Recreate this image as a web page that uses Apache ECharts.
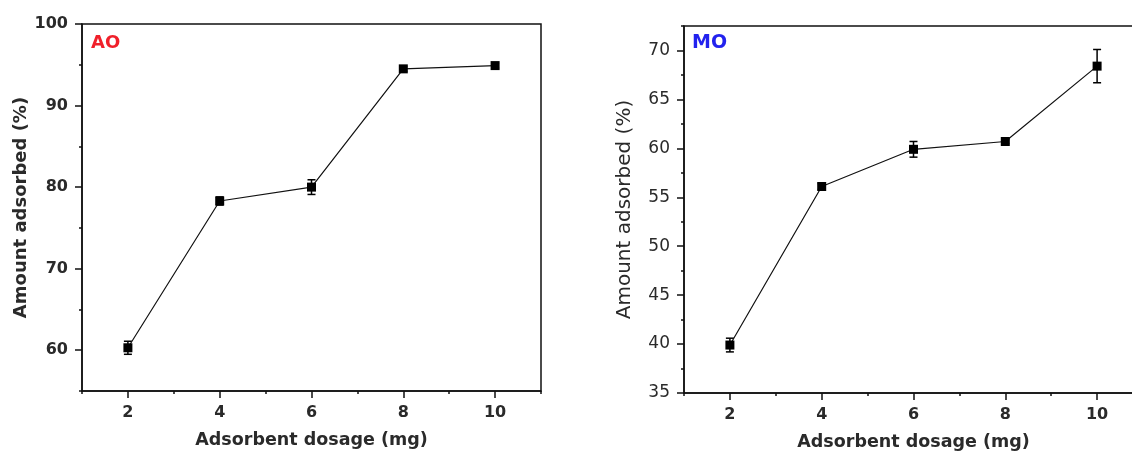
<!DOCTYPE html>
<html>
<head>
<meta charset="utf-8">
<script src="https://cdn.jsdelivr.net/npm/echarts@6/dist/echarts.min.js"></script>
<style>
html,body{margin:0;padding:0;background:#fff;overflow:hidden;width:1132px;height:456px;}
#chart{width:1160px;height:456px;}
</style>
</head>
<body>
<div id="chart"></div>
<script>
// ---- data ----
const dosage = [2, 4, 6, 8, 10];
const aoValues = [60.3, 78.3, 80.0, 94.5, 94.9];
const aoErrors = [0.8, 0.5, 0.9, 0.3, 0.3];
const moValues = [39.9, 56.1, 59.9, 60.7, 68.4];
const moErrors = [0.7, 0.3, 0.8, 0.2, 1.7];

const xTickLabels = [2, 4, 6, 8, 10];
const aoYTickLabels = [60, 70, 80, 90, 100];
const moYTickLabels = [35, 40, 45, 50, 55, 60, 65, 70];

const xName = 'Adsorbent dosage (mg)';
const yName = 'Amount adsorbed (%)';
const panelLabels = ['AO', 'MO'];

// ---- styles ----
const FONT = 'DejaVu Sans';
const AXIS_COLOR = '#111';
const TEXT_COLOR = '#2a2a2a';

function pairs(vals, errs) {
  return dosage.map((d, i) => [d, vals[i], errs[i]]);
}

function errorBar(params, api) {
  const x = api.value(0), y = api.value(1), e = api.value(2);
  const hi = api.coord([x, y + e]);
  const lo = api.coord([x, y - e]);
  const w = 4;
  const st = { stroke: '#000', lineWidth: 1.5 };
  return {
    type: 'group',
    children: [
      { type: 'line', shape: { x1: hi[0], y1: hi[1], x2: lo[0], y2: lo[1] }, style: st },
      { type: 'line', shape: { x1: hi[0] - w, y1: hi[1], x2: hi[0] + w, y2: hi[1] }, style: st },
      { type: 'line', shape: { x1: lo[0] - w, y1: lo[1], x2: lo[0] + w, y2: lo[1] }, style: st }
    ]
  };
}

function mainX(gridIndex) {
  return {
    type: 'value', gridIndex, min: 1, max: 11, interval: 1,
    name: xName, nameLocation: 'middle', nameGap: 40,
    nameTextStyle: { fontFamily: FONT, fontSize: 17.5, fontWeight: 'bold', color: TEXT_COLOR },
    axisLine: { show: true, lineStyle: { color: AXIS_COLOR, width: 1.5 } },
    axisTick: { show: true, inside: false, length: 3, lineStyle: { color: AXIS_COLOR, width: 1.5 } },
    axisLabel: { customValues: xTickLabels, margin: 14, fontFamily: FONT, fontSize: 16, fontWeight: 'bold', color: TEXT_COLOR },
    splitLine: { show: false }
  };
}
function majorX(gridIndex) {
  return {
    type: 'value', gridIndex, min: 1, max: 11, interval: 1, position: 'bottom',
    axisLine: { show: false },
    axisTick: { show: true, customValues: xTickLabels, inside: false, length: 7, lineStyle: { color: AXIS_COLOR, width: 1.5 } },
    axisLabel: { show: false },
    splitLine: { show: false }
  };
}
function mainY(gridIndex, min, max, interval, labels, bold, nameGap, nameSize) {
  return {
    type: 'value', gridIndex, min, max, interval,
    name: yName, nameLocation: 'middle', nameGap,
    nameTextStyle: { fontFamily: FONT, fontSize: nameSize, fontWeight: bold ? 'bold' : 'normal', color: TEXT_COLOR },
    axisLine: { show: true, lineStyle: { color: AXIS_COLOR, width: 1.5 } },
    axisTick: { show: true, inside: false, length: 3, lineStyle: { color: AXIS_COLOR, width: 1.5 } },
    axisLabel: { customValues: labels, margin: 14, fontFamily: FONT, fontSize: bold ? 16 : 17, fontWeight: bold ? 'bold' : 'normal', color: TEXT_COLOR },
    splitLine: { show: false }
  };
}
function majorY(gridIndex, min, max, interval, labels) {
  return {
    type: 'value', gridIndex, min, max, interval, position: 'left',
    axisLine: { show: false },
    axisTick: { show: true, customValues: labels, inside: false, length: 7, lineStyle: { color: AXIS_COLOR, width: 1.5 } },
    axisLabel: { show: false },
    splitLine: { show: false }
  };
}

function lineSeries(xi, yi, vals) {
  return {
    type: 'line', xAxisIndex: xi, yAxisIndex: yi,
    data: dosage.map((d, i) => [d, vals[i]]),
    symbol: 'rect', symbolSize: 9,
    itemStyle: { color: '#000' },
    lineStyle: { color: '#111', width: 1.2 },
    z: 3
  };
}
function errSeries(xi, yi, vals, errs) {
  return {
    type: 'custom', xAxisIndex: xi, yAxisIndex: yi,
    data: pairs(vals, errs),
    renderItem: errorBar,
    encode: { x: 0, y: [1, 2] },
    z: 2
  };
}

const option = {
  animation: false,
  backgroundColor: '#fff',
  grid: [
    { left: 82, top: 24, width: 459, height: 367, show: true, borderColor: AXIS_COLOR, borderWidth: 1.5 },
    { left: 684, top: 26, width: 459, height: 367, show: true, borderColor: AXIS_COLOR, borderWidth: 1.5 }
  ],
  xAxis: [mainX(0), majorX(0), mainX(1), majorX(1)],
  yAxis: [
    mainY(0, 55, 100, 5, aoYTickLabels, true, 52, 18),
    majorY(0, 55, 100, 5, aoYTickLabels),
    mainY(1, 35, 72.5, 2.5, moYTickLabels, false, 49, 20),
    majorY(1, 35, 72.5, 2.5, moYTickLabels)
  ],
  graphic: [
    { type: 'text', left: 91, top: 34, style: { text: panelLabels[0], font: 'bold 18px "DejaVu Sans"', fill: '#f0202a' } },
    { type: 'text', left: 692, top: 34, style: { text: panelLabels[1], font: 'bold 19px "DejaVu Sans"', fill: '#2222ee' } }
  ],
  series: [
    errSeries(0, 0, aoValues, aoErrors),
    lineSeries(0, 0, aoValues),
    errSeries(2, 2, moValues, moErrors),
    lineSeries(2, 2, moValues)
  ]
};

const chart = echarts.init(document.getElementById('chart'), null, { renderer: 'canvas' });
chart.setOption(option);
</script>
</body>
</html>
